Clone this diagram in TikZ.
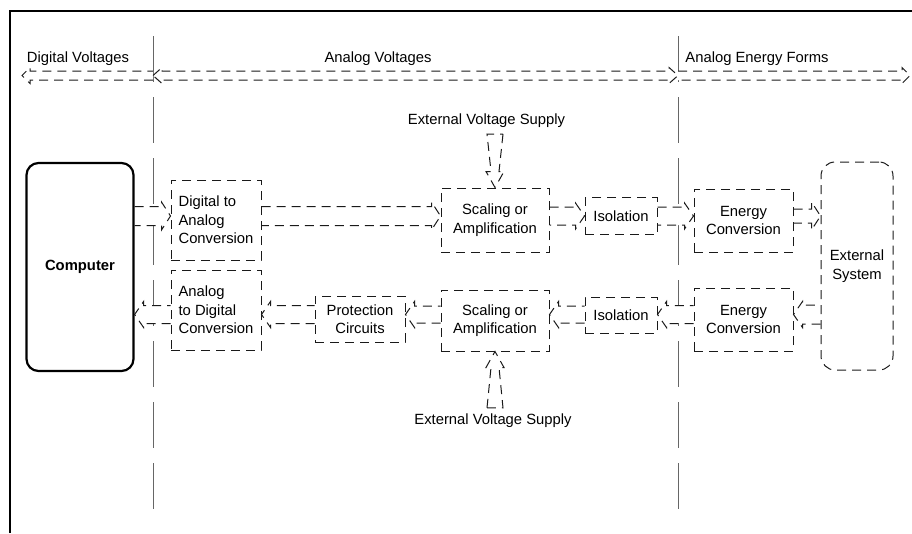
\documentclass[tikz,border=0pt]{standalone}
\usepackage{fontspec}
\setmainfont{Liberation Sans}
\usetikzlibrary{calc}
\pgfdeclarelayer{bg}
\pgfsetlayers{bg,main}
\definecolor{ink}{HTML}{1A1A1A}
\definecolor{rulegray}{HTML}{666666}
\newcommand\basefont{\fontsize{14.8}{18.5}\selectfont}

% corner points of a block arrow: from, to, tail half-width, shaft half-width at head, head half-width, head length
\newcommand\arrowpts[6]{%
  \coordinate (ba-p) at ($(#2)!#6!(#1)$);
  \coordinate (ba-t1) at ($(#1)!#3!90:(#2)$);
  \coordinate (ba-t2) at ($(#1)!#3!-90:(#2)$);
  \coordinate (ba-s1) at ($(ba-p)!#4!90:(#2)$);
  \coordinate (ba-s2) at ($(ba-p)!#4!-90:(#2)$);
  \coordinate (ba-h1) at ($(ba-p)!#5!90:(#2)$);
  \coordinate (ba-h2) at ($(ba-p)!#5!-90:(#2)$);
  \coordinate (ba-tip) at (#2);}
% block arrow with an open tail (tail sits on a box edge)
\newcommand\flowarrow[7][]{%
  \arrowpts{#2}{#3}{#4}{#5}{#6}{#7}%
  \begin{pgfonlayer}{bg}
    \fill[white] (ba-t1) -- (ba-s1) -- (ba-h1) -- (ba-tip) -- (ba-h2) -- (ba-s2) -- (ba-t2) -- cycle;
  \end{pgfonlayer}
  \draw[flowline,#1] (ba-t1) -- (ba-s1) -- (ba-h1) -- (ba-tip) -- (ba-h2) -- (ba-s2) -- (ba-t2);}
% block arrow with a closed tail
\newcommand\flowarrowclosed[7][]{%
  \arrowpts{#2}{#3}{#4}{#5}{#6}{#7}%
  \begin{pgfonlayer}{bg}
    \fill[white] (ba-t1) -- (ba-s1) -- (ba-h1) -- (ba-tip) -- (ba-h2) -- (ba-s2) -- (ba-t2) -- cycle;
  \end{pgfonlayer}
  \draw[flowline,#1] (ba-t1) -- (ba-s1) -- (ba-h1) -- (ba-tip) -- (ba-h2) -- (ba-s2) -- (ba-t2) -- cycle;}

\begin{document}
\begin{tikzpicture}[x=1pt,y=-1pt,
  font=\basefont,
  box/.style={draw=ink, dash pattern=on 9pt off 6pt, line width=1pt,
              inner sep=2pt, align=center},
  flowline/.style={draw=ink, dash pattern=on 9pt off 6pt, line width=1pt},
  divider/.style={draw=rulegray, line width=1pt, dash pattern=on 46pt off 15pt},
  caption/.style={inner sep=0pt}]
\useasboundingbox (0,0) rectangle (912,533);

% frame
\draw[line width=2.4pt] (10,533) -- (10,11) -- (912,11);

% section dividers
\coordinate (divLtop) at (153,36);
\coordinate (divLbot) at (153,512);
\coordinate (divRtop) at (678,36);
\coordinate (divRbot) at (678,512);
\begin{pgfonlayer}{bg}
  \draw[divider] (divLtop) -- (divLbot);
  \draw[divider] (divRtop) -- (divRbot);
\end{pgfonlayer}

% section captions
\node[caption] (capDig) at (78,59) {Digital Voltages};
\node[caption] (capAna) at (378,59) {Analog Voltages};
\node[caption] (capEn)  at (757,59) {Analog Energy Forms};

% blocks
\node[draw=black, line width=2.2pt, rounded corners=12pt, minimum width=107pt,
      minimum height=208pt, font=\basefont\bfseries] (comp) at (80,267) {Computer};
\node[box, align=left, minimum width=90pt, minimum height=80pt] (dac) at (216,220)
  {Digital to\\Analog\\Conversion};
\node[box, align=left, minimum width=90pt, minimum height=80pt] (adc) at (216,310)
  {Analog\\to Digital\\Conversion};
\node[box, minimum width=90pt, minimum height=46pt] (prot) at (360,319)
  {Protection\\Circuits};
\node[box, minimum width=108pt, minimum height=64pt] (scalA) at (495,220)
  {Scaling or\\Amplification};
\node[box, minimum width=108pt, minimum height=61pt] (scalB) at (495,320.5)
  {Scaling or\\Amplification};
\node[box, minimum width=72pt, minimum height=37pt] (isoA) at (621,216) {Isolation};
\node[box, minimum width=72pt, minimum height=36pt] (isoB) at (621,315) {Isolation};
\node[box, minimum width=99pt, minimum height=63pt] (enA) at (743.5,220.5)
  {Energy\\Conversion};
\node[box, minimum width=99pt, minimum height=63pt] (enB) at (743.5,319.5)
  {Energy\\Conversion};
\node[box, rounded corners=14pt, minimum width=72pt, minimum height=208pt] (ext)
  at (857,266) {External\\System};

% supply captions
\node[caption] (supA) at (486.5,121) {External Voltage Supply};
\node[caption] (supB) at (493,421) {External Voltage Supply};

% signal rows
\coordinate (rowA) at (0,216);
\coordinate (rowB) at (0,314.5);

% output path
\flowarrow{comp.east |- rowA}{dac.west |- rowA}{9.5pt}{9.5pt}{14pt}{9pt}
\flowarrow{dac.east |- rowA}{scalA.west |- rowA}{9.5pt}{9.5pt}{14pt}{9pt}
\flowarrow{scalA.east |- rowA}{isoA.west |- rowA}{9pt}{9pt}{13pt}{9pt}
\flowarrow{isoA.east |- rowA}{enA.west |- rowA}{9pt}{9pt}{13pt}{9pt}
\flowarrow{enA.east |- rowA}{ext.west |- rowA}{7pt}{7pt}{14pt}{9pt}

% input path
\flowarrow{ext.west |- rowB}{enB.east |- rowB}{9.5pt}{9.5pt}{13pt}{9pt}
\flowarrow{enB.west |- rowB}{isoB.east |- rowB}{9pt}{9pt}{13pt}{9pt}
\flowarrow{isoB.west |- rowB}{scalB.east |- rowB}{8.5pt}{8.5pt}{13pt}{9pt}
\flowarrow{scalB.west |- rowB}{prot.east |- rowB}{8.5pt}{8.5pt}{13pt}{9pt}
\flowarrow{prot.west |- rowB}{adc.east |- rowB}{9pt}{9pt}{13pt}{9pt}
\flowarrow{adc.west |- rowB}{comp.east |- rowB}{9pt}{9pt}{13pt}{9pt}

% supply feeds
\coordinate (supAtail) at ($(scalA.north |- supA.south)+(0,6)$);
\coordinate (supBtail) at ($(scalB.south |- supB.north)+(0,-6)$);
\flowarrowclosed{supAtail}{scalA.north}{8pt}{4pt}{9pt}{16pt}
\flowarrowclosed{supBtail}{scalB.south}{8pt}{4pt}{9pt}{16pt}

% section span arrows
\coordinate (spanL) at (153,75.5);
\coordinate (spanR) at (678,75.5);
\coordinate (digEnd) at (22,75.5);
\coordinate (enEnd) at (910,75.5);
\flowarrow{spanL}{digEnd}{4.5pt}{4.5pt}{8pt}{8pt}
\flowarrow{spanR}{enEnd}{4.5pt}{4.5pt}{8pt}{8pt}
% double-headed span across the analog section
\coordinate (pa) at ($(spanL)!9pt!(spanR)$);
\coordinate (pb) at ($(spanR)!9pt!(spanL)$);
\begin{pgfonlayer}{bg}
  \fill[white] (spanL) -- ($(pa)!8pt!90:(spanR)$) -- ($(pa)!4.5pt!90:(spanR)$)
    -- ($(pb)!4.5pt!-90:(spanL)$) -- ($(pb)!8pt!-90:(spanL)$) -- (spanR)
    -- ($(pb)!8pt!90:(spanL)$) -- ($(pb)!4.5pt!90:(spanL)$)
    -- ($(pa)!4.5pt!-90:(spanR)$) -- ($(pa)!8pt!-90:(spanR)$) -- cycle;
\end{pgfonlayer}
\draw[flowline] (spanL) -- ($(pa)!8pt!90:(spanR)$) -- ($(pa)!4.5pt!90:(spanR)$)
    -- ($(pb)!4.5pt!-90:(spanL)$) -- ($(pb)!8pt!-90:(spanL)$) -- (spanR)
    -- ($(pb)!8pt!90:(spanL)$) -- ($(pb)!4.5pt!90:(spanL)$)
    -- ($(pa)!4.5pt!-90:(spanR)$) -- ($(pa)!8pt!-90:(spanR)$) -- cycle;
\end{tikzpicture}
\end{document}
